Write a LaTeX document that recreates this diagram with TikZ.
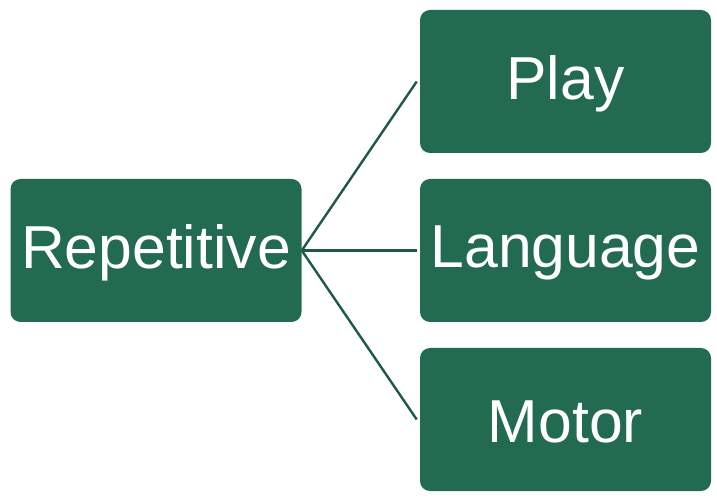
\documentclass[tikz,border=0pt]{standalone}
\usepackage{fontspec}
\setmainfont{Liberation Sans}
\definecolor{boxgreen}{HTML}{226B51}
\definecolor{linkgreen}{HTML}{1E5A43}
\begin{document}
\begin{tikzpicture}[x=0.75pt,y=-0.75pt,
  itembox/.style={draw=none,fill=boxgreen,rounded corners=7.5pt,
    text=white,font=\fontsize{45.5}{54}\selectfont,
    minimum width=218.25pt,minimum height=107.25pt,inner sep=0pt},
  itemtext/.style={text=white,font=\fontsize{45.5}{54}\selectfont,inner sep=0pt},
  link/.style={draw=linkgreen,line width=1.8pt}]
\useasboundingbox (0,0) rectangle (717,498);
% boxes
\node[itembox] (rep) at (156,250.5) {};
\node[itembox] (play) at (565.5,81.5) {};
\node[itembox] (lang) at (565.5,250.5) {};
\node[itembox] (motor) at (565.5,419.5) {};
% labels, set a little below the box centres
\node[itemtext] (repl) at ([yshift=-1.5pt]rep.center) {Repetitive};
\node[itemtext] (playl) at ([yshift=-1.5pt]play.center) {Play};
\node[itemtext] (langl) at ([yshift=-1.5pt]lang.center) {Language};
\node[itemtext] (motorl) at ([yshift=-1.5pt]motor.center) {Motor};
% connectors from the hub on the right edge of the root box
\coordinate (hub) at (rep.east);
\draw[link] (hub) -- ([xshift=-2.25pt]play.west);
\draw[link] (hub) -- ([xshift=-2.25pt]lang.west);
\draw[link] (hub) -- ([xshift=-2.25pt]motor.west);
\end{tikzpicture}
\end{document}
